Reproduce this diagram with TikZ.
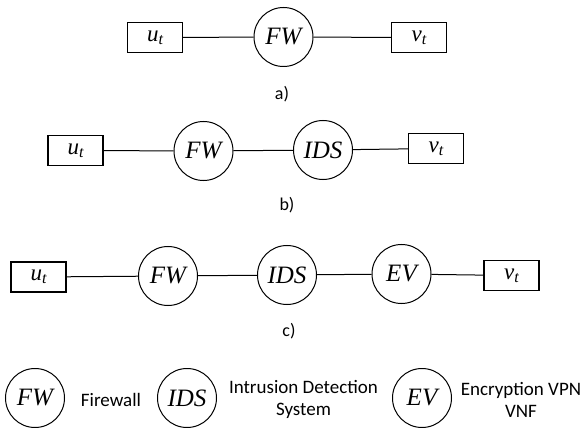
\documentclass[tikz,border=0pt]{standalone}
\usepackage{fontspec}
\setmainfont{Carlito}
\newfontfamily\tnr{Liberation Serif}
\newcommand{\termlbl}[2]{{\tnr\itshape\fontsize{23}{26}\selectfont #1}\raisebox{-0.3em}{\tnr\itshape\fontsize{16}{18}\selectfont #2}}
\begin{document}
\begin{tikzpicture}[x=1pt,y=-1pt,
  vnf/.style={draw,circle,line width=1pt,minimum size=59pt,inner sep=0pt,font=\tnr\itshape\fontsize{25}{28}\selectfont},
  endbox/.style={draw,rectangle,line width=1.4pt,minimum width=55pt,minimum height=30pt,inner sep=0pt},
  link/.style={line width=1pt},
  sublabel/.style={font=\fontsize{18}{22}\selectfont},
  legtext/.style={font=\fontsize{19}{22}\selectfont,align=center}]
\useasboundingbox (0,0) rectangle (582,428);
% row a
\node[endbox] (ua) at (155,37.5) {\termlbl{u}{t}};
\node[vnf] (fwa) at (283.5,37) {FW};
\node[endbox] (va) at (419,37.5) {\termlbl{v}{t}\hspace{8pt}};
\draw[link] (ua) -- (fwa);
\draw[link] (fwa) -- (va);
\node[sublabel] (la) at (282,94) {a)};
% row b
\node[endbox] (ub) at (75.5,150.5) {\termlbl{u}{t}};
\node[vnf] (fwb) at (203.5,151) {FW};
\node[vnf] (idsb) at (323,150) {IDS};
\node[endbox] (vb) at (436,148.5) {\termlbl{v}{t}\hspace{8pt}};
\draw[link] (ub) -- (fwb);
\draw[link] (fwb) -- (idsb);
\draw[link] (idsb) -- (vb);
\node[sublabel] (lb) at (287,205) {b)};
% row c
\node[endbox] (uc) at (38.5,277) {\termlbl{u}{t}};
\node[vnf] (fwc) at (168,276) {FW};
\node[vnf] (idsc) at (287,275) {IDS};
\node[vnf] (evc) at (401.5,274) {EV};
\node[endbox] (vc) at (511.5,275.5) {\termlbl{v}{t}\hspace{8pt}};
\draw[link] (uc) -- (fwc);
\draw[link] (fwc) -- (idsc);
\draw[link] (idsc) -- (evc);
\draw[link] (evc) -- (vc);
\node[sublabel] (lc) at (289,331) {c)};
% legend
\node[vnf] (lfw) at (35,398) {FW};
\node[legtext] (tfw) at (111,400) {Firewall};
\node[vnf] (lids) at (187,398) {IDS};
\node[legtext] (tids) at (303.5,399.5) {Intrusion Detection\\System};
\node[vnf] (lev) at (422,398) {EV};
\node[legtext] (tev) at (521,399.5) {Encryption VPN\\VNF};
\end{tikzpicture}
\end{document}
